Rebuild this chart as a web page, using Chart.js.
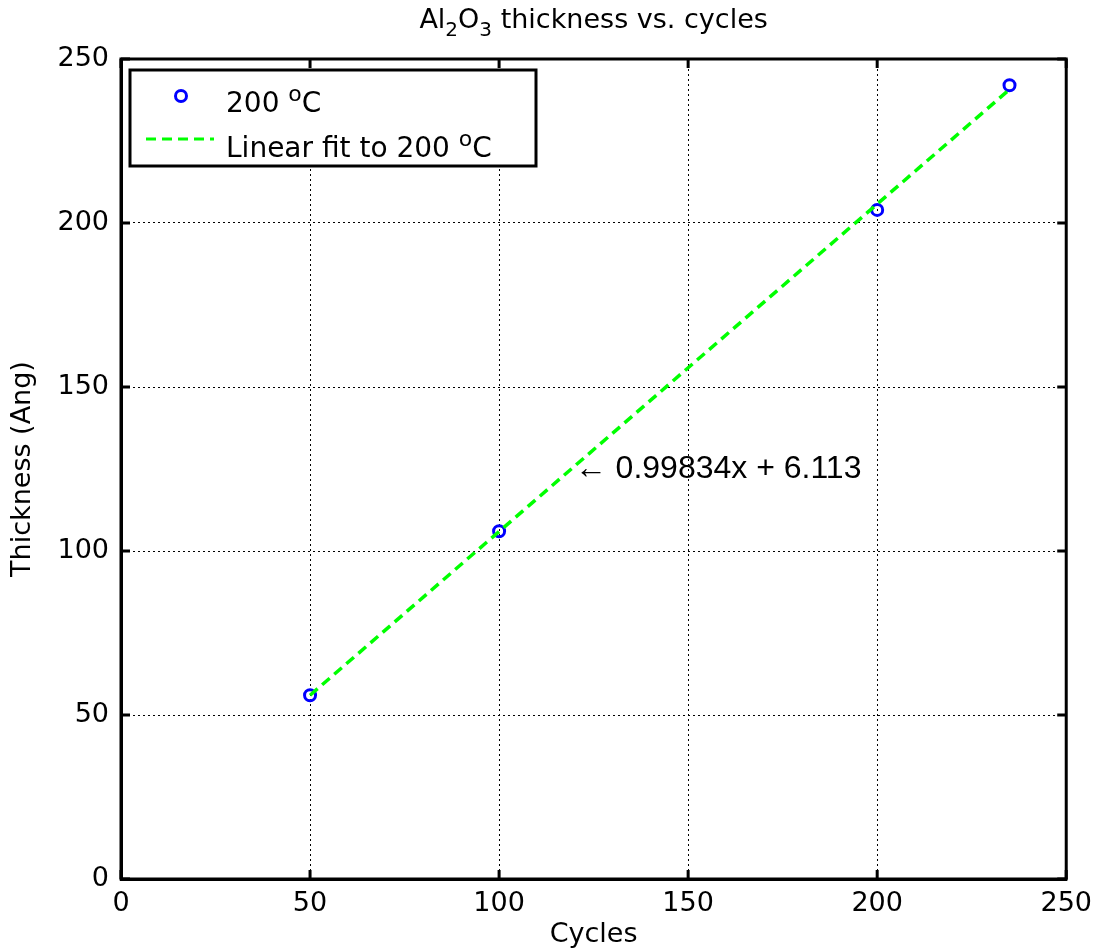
<!DOCTYPE html>
<html>
<head>
<meta charset="utf-8">
<script src="https://cdn.jsdelivr.net/npm/chart.js@4/dist/chart.umd.min.js"></script>
<style>
  html, body { margin: 0; padding: 0; background: #fff; }
  #wrap { width: 1101px; height: 952px; }
</style>
</head>
<body>
<div id="wrap"><canvas id="grafico" width="1101" height="952"></canvas></div>
<script>
// Datos
const cycles = [50, 100, 200, 235];
const thickness = [56, 106, 204, 242];
const fitX = [50, 235];
const fitY = [56.03, 240.72];
const xTicks = [0, 50, 100, 150, 200, 250];
const yTicks = [0, 50, 100, 150, 200, 250];
const fitLabel = '\u2190 0.99834x + 6.113';
const fitLabelAt = [120, 125];

const tickFont = { family: 'DejaVu Sans', size: 27 };

// Dibuja el marco, las marcas hacia adentro, el título, la leyenda y la ecuación
const extras = {
    id: 'extras',
    afterDraw(chart) {
        const ctx = chart.ctx;
        const a = chart.chartArea;
        const xs = chart.scales.x, ys = chart.scales.y;
        ctx.save();

        // marco
        ctx.strokeStyle = '#000';
        ctx.lineWidth = 3;
        ctx.strokeRect(a.left, a.top, a.right - a.left, a.bottom - a.top);

        // marcas hacia adentro
        ctx.beginPath();
        xTicks.forEach(v => {
            const px = xs.getPixelForValue(v);
            ctx.moveTo(px, a.bottom); ctx.lineTo(px, a.bottom - 9);
            ctx.moveTo(px, a.top); ctx.lineTo(px, a.top + 9);
        });
        yTicks.forEach(v => {
            const py = ys.getPixelForValue(v);
            ctx.moveTo(a.left, py); ctx.lineTo(a.left + 9, py);
            ctx.moveTo(a.right, py); ctx.lineTo(a.right - 9, py);
        });
        ctx.stroke();

        // título con subíndices
        const big = '27px DejaVu Sans', small = '20px DejaVu Sans';
        const parts = [['Al', big, 0], ['2', small, 8], ['O', big, 0], ['3', small, 8], [' thickness vs. cycles', big, 0]];
        let total = 0;
        parts.forEach(p => { ctx.font = p[1]; total += ctx.measureText(p[0]).width; });
        let tx = (a.left + a.right) / 2 - total / 2;
        ctx.fillStyle = '#000';
        ctx.textBaseline = 'alphabetic';
        ctx.textAlign = 'left';
        parts.forEach(p => {
            ctx.font = p[1];
            ctx.fillText(p[0], tx, 28 + p[2]);
            tx += ctx.measureText(p[0]).width;
        });

        // leyenda
        const lx = a.left + 9, ly = a.top + 11;
        ctx.fillStyle = '#fff';
        ctx.fillRect(lx, ly, 406, 96);
        ctx.lineWidth = 3;
        ctx.strokeStyle = '#000';
        ctx.strokeRect(lx, ly, 406, 96);

        ctx.strokeStyle = '#0000ff';
        ctx.lineWidth = 3;
        ctx.beginPath();
        ctx.arc(lx + 51, ly + 26, 5.5, 0, Math.PI * 2);
        ctx.stroke();

        ctx.strokeStyle = '#00ff00';
        ctx.setLineDash([10, 6]);
        ctx.beginPath();
        ctx.moveTo(lx + 16, ly + 69);
        ctx.lineTo(lx + 84, ly + 69);
        ctx.stroke();
        ctx.setLineDash([]);

        const deg = (text, x, y) => {
            ctx.fillStyle = '#000';
            ctx.font = '28px DejaVu Sans';
            ctx.fillText(text, x, y);
            x += ctx.measureText(text).width;
            ctx.font = '22px DejaVu Sans';
            ctx.fillText('o', x, y - 11);
            x += ctx.measureText('o').width;
            ctx.font = '28px DejaVu Sans';
            ctx.fillText('C', x, y);
        };
        deg('200 ', lx + 96, ly + 42);
        deg('Linear fit to 200 ', lx + 96, ly + 87);

        // ecuación del ajuste
        ctx.font = '32px Liberation Sans';
        ctx.fillStyle = '#000';
        ctx.textBaseline = 'middle';
        ctx.fillText(fitLabel, xs.getPixelForValue(fitLabelAt[0]), ys.getPixelForValue(fitLabelAt[1]));

        ctx.restore();
    }
};

new Chart(document.getElementById('grafico'), {
    type: 'scatter',
    data: {
        datasets: [{
            label: '200 oC',
            data: cycles.map((c, i) => ({ x: c, y: thickness[i] })),
            pointStyle: 'circle',
            pointRadius: 5.5,
            pointBorderWidth: 3,
            borderColor: '#0000ff',
            backgroundColor: 'rgba(0,0,0,0)',
            showLine: false,
            order: 1
        }, {
            label: 'Linear fit to 200 oC',
            data: fitX.map((c, i) => ({ x: c, y: fitY[i] })),
            showLine: true,
            borderColor: '#00ff00',
            borderWidth: 3.5,
            borderDash: [10, 6],
            pointRadius: 0,
            order: 0
        }]
    },
    options: {
        responsive: false,
        animation: false,
        devicePixelRatio: 1,
        layout: { padding: { top: 59, right: 32, left: 0, bottom: 0 } },
        plugins: {
            legend: { display: false },
            title: { display: false },
            tooltip: { enabled: false }
        },
        scales: {
            x: {
                type: 'linear',
                min: 0,
                max: 250,
                afterBuildTicks: s => { s.ticks = xTicks.map(v => ({ value: v })); },
                afterFit: s => { s.height = 73; },
                ticks: { font: tickFont, color: '#000', padding: 9, maxRotation: 0 },
                grid: { color: '#000', lineWidth: 1, drawTicks: false },
                border: { display: true, color: '#000', width: 3, dash: [2, 3] },
                title: { display: true, text: 'Cycles', font: tickFont, color: '#000', padding: { top: 0, bottom: 1 } }
            },
            y: {
                type: 'linear',
                min: 0,
                max: 250,
                afterBuildTicks: s => { s.ticks = yTicks.map(v => ({ value: v })); },
                afterFit: s => { s.width = 121; },
                ticks: { font: tickFont, color: '#000', padding: 12 },
                grid: { color: '#000', lineWidth: 1, drawTicks: false },
                border: { display: true, color: '#000', width: 3, dash: [2, 3] },
                title: { display: true, text: 'Thickness (Ang)', font: tickFont, color: '#000', padding: { top: 7, bottom: 0 } }
            }
        }
    },
    plugins: [extras]
});
</script>
</body>
</html>
